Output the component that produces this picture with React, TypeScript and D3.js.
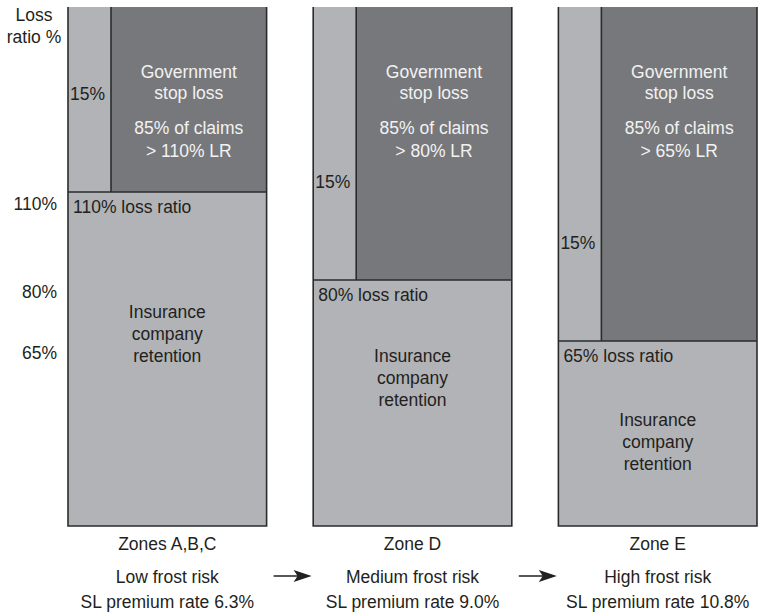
import React from 'react';
import * as d3 from 'd3';

// zones and their stop-loss trigger levels (loss ratio %)
const zones = ['Zones A,B,C', 'Zone D', 'Zone E'];
const triggerLevels = [110, 80, 65];
const govShare = [85, 85, 85];
const insurerShare = [15, 15, 15];
const riskLabels = ['Low frost risk', 'Medium frost risk', 'High frost risk'];
const premiumRates = [6.3, 9.0, 10.8];
const axisTicks = [110, 80, 65];

const width = 758;
const height = 616;
const light = '#b1b3b6';
const dark = '#77787b';
const ink = '#231f20';
const font = '"Liberation Sans", Arial, Helvetica, sans-serif';
const fs = 17.5;

// vertical offset of the retention text block below each trigger line
const retentionOffsets = [126, 82, 85];

function App() {
	const x = d3.scaleBand<string>().domain(zones).range([68, 757]).paddingInner(0.19);
	// the original figure is not drawn to a linear scale, so piecewise
	const y = d3
		.scaleLinear()
		.domain([0, 65, 80, 110, 160])
		.range([526, 341, 280, 192, 7]);
	const bw = x.bandwidth();
	const stripW = 43;
	const top = y(160);
	const bottom = y(0);

	const arrowY = 576;

	return (
		<svg
			width={width}
			height={height}
			style={{ position: 'absolute', left: 0, top: 0, fontFamily: font }}
		>
			<rect width={width} height={height} fill="#fff" />

			{/* y label */}
			<text x={34} y={21} fontSize={fs} fill={ink} textAnchor="middle">
				Loss
			</text>
			<text x={34} y={43} fontSize={fs} fill={ink} textAnchor="middle">
				ratio %
			</text>
			{axisTicks.map((t) => (
				<text key={t} x={57} y={y(t) + 18} fontSize={fs} fill={ink} textAnchor="end">
					{t}%
				</text>
			))}

			{zones.map((z, i) => {
				const x0 = x(z) ?? 0;
				const x1 = x0 + bw;
				const lv = y(triggerLevels[i]);
				const cx = x0 + bw / 2;
				const dcx = x0 + stripW + (bw - stripW) / 2;
				const rt = lv + retentionOffsets[i];
				return (
					<g key={z}>
						<rect x={x0} y={lv} width={bw} height={bottom - lv} fill={light} />
						<rect x={x0} y={top} width={stripW} height={lv - top} fill={light} />
						<rect x={x0 + stripW} y={top} width={bw - stripW} height={lv - top} fill={dark} />
						<g stroke="#2b2b2b" strokeWidth={1.6} fill="none">
							<path d={`M${x0},${top}V${bottom}H${x1}V${top}`} />
							<line x1={x0} x2={x1} y1={lv} y2={lv} />
							<line x1={x0 + stripW} x2={x0 + stripW} y1={top} y2={lv} />
						</g>

						<text x={x0 + 2} y={lv - 92} fontSize={fs} fill={ink}>
							{insurerShare[i]}%
						</text>

						<g fill="#f2f2f2" fontSize={fs} textAnchor="middle">
							<text x={dcx} y={78}>Government</text>
							<text x={dcx} y={99}>stop loss</text>
							<text x={dcx} y={134}>{govShare[i]}% of claims</text>
							<text x={dcx} y={157}>&gt; {triggerLevels[i]}% LR</text>
						</g>

						<text x={x0 + 5} y={lv + 21} fontSize={fs} fill={ink}>
							{triggerLevels[i]}% loss ratio
						</text>
						<g fill={ink} fontSize={fs} textAnchor="middle">
							<text x={cx} y={rt}>Insurance</text>
							<text x={cx} y={rt + 22}>company</text>
							<text x={cx} y={rt + 44}>retention</text>
						</g>

						<g fill={ink} fontSize={fs} textAnchor="middle">
							<text x={cx} y={550}>{z}</text>
							<text x={cx} y={583}>{riskLabels[i]}</text>
							<text x={cx} y={608}>SL premium rate {premiumRates[i].toFixed(1)}%</text>
						</g>

						{i < zones.length - 1 && (
							<g>
								<line
									x1={x1 + 7}
									x2={x1 + 32}
									y1={arrowY}
									y2={arrowY}
									stroke={ink}
									strokeWidth={1.5}
								/>
								<path
									d={`M${x1 + 45},${arrowY} L${x1 + 27},${arrowY - 6} L${x1 + 31},${arrowY} L${x1 + 27},${arrowY + 6} Z`}
									fill={ink}
								/>
							</g>
						)}
					</g>
				);
			})}
		</svg>
	);
}

export default App;
